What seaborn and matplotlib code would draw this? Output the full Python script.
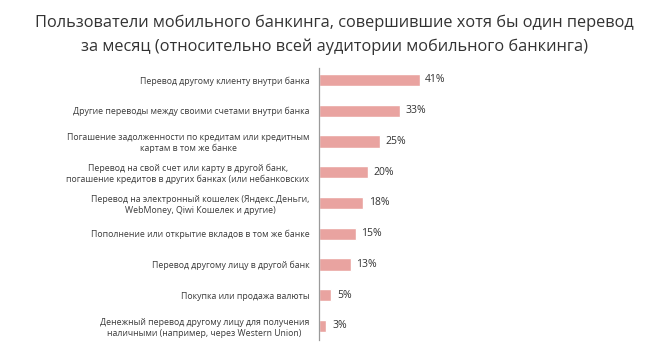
import matplotlib
matplotlib.use("Agg")
import matplotlib.pyplot as plt
import seaborn as sns
import pandas as pd

# данные
kategorii = [
    "Перевод другому клиенту внутри банка",
    "Другие переводы между своими счетами внутри банка",
    "Погашение задолженности по кредитам или кредитным\nкартам в том же банке",
    "Перевод на свой счет или карту в другой банк,\nпогашение кредитов в других банках (или небанковских",
    "Перевод на электронный кошелек (Яндекс.Деньги,\nWebMoney, Qiwi Кошелек и другие)",
    "Пополнение или открытие вкладов в том же банке",
    "Перевод другому лицу в другой банк",
    "Покупка или продажа валюты",
    "Денежный перевод другому лицу для получения\nналичными (например, через Western Union)",
]
znacheniya = [41, 33, 25, 20, 18, 15, 13, 5, 3]
zagolovok = ("Пользователи мобильного банкинга, совершившие хотя бы один перевод\n"
             "за месяц (относительно всей аудитории мобильного банкинга)")

df = pd.DataFrame({"kat": kategorii, "val": znacheniya})

sns.set_style("white")
plt.rcParams["font.family"] = ["Open Sans", "DejaVu Sans"]

fig = plt.figure(figsize=(6.66, 3.54), dpi=100)
ax = fig.add_axes([0.479, 0.0395, 0.184, 0.7684])

sns.barplot(data=df, x="val", y="kat", orient="h", color="#e9a3a0",
            width=0.4, ax=ax, saturation=1)

ax.set_xlim(0, 50)
ax.set_ylim(8.46, -0.39)
ax.set_xlabel("")
ax.set_ylabel("")
ax.set_xticks([])

for s in ["top", "right", "bottom"]:
    ax.spines[s].set_visible(False)
ax.spines["left"].set_color("#9a9a9a")
ax.spines["left"].set_linewidth(0.9)

ax.tick_params(axis="y", which="major", length=0, pad=7, labelsize=6.3,
               labelcolor="#3a3a3a")
ax.set_yticks(range(len(kategorii)), kategorii)
for t in ax.get_yticklabels():
    t.set_multialignment("center")
    t.set_linespacing(1.25)
ax.set_yticks([i + 0.5 for i in range(len(kategorii) - 1)], minor=True)
ax.tick_params(axis="y", which="minor", length=4, width=0.8, color="#9a9a9a",
               direction="out")

for i, v in enumerate(znacheniya):
    ax.text(v + 2.3, i, f"{v}%", va="center", ha="left", fontsize=7.5,
            color="#333333")

fig.text(0.502, 0.902, zagolovok, ha="center", va="center", fontsize=11.8,
         color="#333333", linespacing=1.65)

fig.savefig("out.png", dpi=100)
